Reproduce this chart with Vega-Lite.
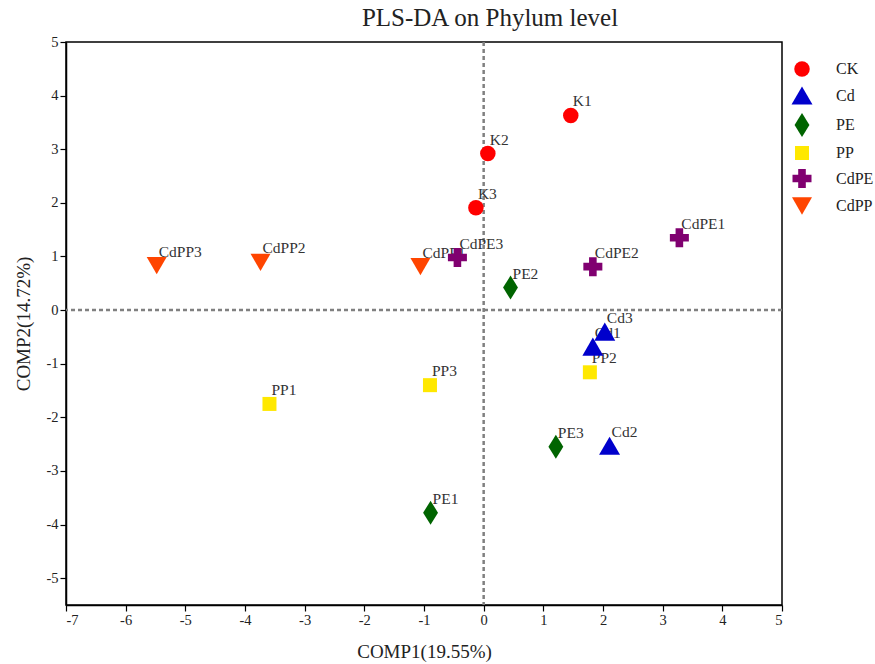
{
  "$schema": "https://vega.github.io/schema/vega-lite/v6.json",
  "width": 716,
  "height": 563,
  "autosize": {"type": "none"},
  "padding": {"left": 66, "top": 42, "right": 93, "bottom": 59},
  "background": "white",
  "title": {"text": "PLS-DA on Phylum level", "font": "Liberation Serif", "fontSize": 25, "fontWeight": "normal", "color": "#222222", "anchor": "middle", "dx": 66, "offset": 3},
  "config": {
    "view": {"stroke": "#000000", "strokeWidth": 1.5},
    "axis": {"grid": false, "domainColor": "#000000", "domainWidth": 1.5, "tickColor": "#000000", "tickWidth": 1.2, "tickSize": 6, "labelFont": "Liberation Serif", "labelFontSize": 14.5, "labelColor": "#222222", "titleFont": "Liberation Serif", "titleFontSize": 19, "titleFontWeight": "normal", "titleColor": "#222222", "labelExpr": "'' + datum.value"}
  },
  "data": {"values": [
    {"sample": "K1", "group": "CK", "x": 1.46, "y": 3.63},
    {"sample": "K2", "group": "CK", "x": 0.07, "y": 2.92},
    {"sample": "K3", "group": "CK", "x": -0.13, "y": 1.91},
    {"sample": "Cd1", "group": "Cd", "x": 1.83, "y": -0.68},
    {"sample": "Cd2", "group": "Cd", "x": 2.11, "y": -2.53},
    {"sample": "Cd3", "group": "Cd", "x": 2.03, "y": -0.40},
    {"sample": "PE1", "group": "PE", "x": -0.89, "y": -3.78},
    {"sample": "PE2", "group": "PE", "x": 0.45, "y": 0.42},
    {"sample": "PE3", "group": "PE", "x": 1.21, "y": -2.55},
    {"sample": "PP1", "group": "PP", "x": -3.59, "y": -1.75},
    {"sample": "PP2", "group": "PP", "x": 1.78, "y": -1.16},
    {"sample": "PP3", "group": "PP", "x": -0.90, "y": -1.40},
    {"sample": "CdPE1", "group": "CdPE", "x": 3.28, "y": 1.35},
    {"sample": "CdPE2", "group": "CdPE", "x": 1.83, "y": 0.81},
    {"sample": "CdPE3", "group": "CdPE", "x": -0.44, "y": 0.98},
    {"sample": "CdPP1", "group": "CdPP", "x": -1.06, "y": 0.81},
    {"sample": "CdPP2", "group": "CdPP", "x": -3.74, "y": 0.89},
    {"sample": "CdPP3", "group": "CdPP", "x": -5.48, "y": 0.83}
  ]},
  "layer": [
    {
      "data": {"values": [{"v": 0}]},
      "mark": {"type": "rule", "color": "#808080", "strokeWidth": 2.5, "strokeDash": [4, 3]},
      "encoding": {"x": {"field": "v", "type": "quantitative", "scale": {"domain": [-7, 5]}}}
    },
    {
      "data": {"values": [{"v": 0}]},
      "mark": {"type": "rule", "color": "#808080", "strokeWidth": 2.5, "strokeDash": [4, 3]},
      "encoding": {"y": {"field": "v", "type": "quantitative", "scale": {"domain": [-5.5, 5]}}}
    },
    {
      "mark": {"type": "text", "align": "left", "baseline": "middle", "dx": 2, "dy": -14, "font": "Liberation Serif", "fontSize": 15.5, "color": "#333333"},
      "encoding": {
        "x": {"field": "x", "type": "quantitative"},
        "y": {"field": "y", "type": "quantitative"},
        "text": {"field": "sample"}
      }
    },
    {
      "mark": {"type": "point", "filled": true, "opacity": 1, "strokeWidth": 0},
      "encoding": {
        "x": {"field": "x", "type": "quantitative", "scale": {"domain": [-7, 5], "nice": false, "zero": false}, "axis": {"values": [-7, -6, -5, -4, -3, -2, -1, 0, 1, 2, 3, 4, 5], "title": "COMP1(19.55%)", "titlePadding": 16}},
        "y": {"field": "y", "type": "quantitative", "scale": {"domain": [-5.5, 5], "nice": false, "zero": false}, "axis": {"values": [-5, -4, -3, -2, -1, 0, 1, 2, 3, 4, 5], "title": "COMP2(14.72%)", "titlePadding": 12}},
        "color": {"field": "group", "type": "nominal", "scale": {"domain": ["CK", "Cd", "PE", "PP", "CdPE", "CdPP"], "range": ["#FF0000", "#0000CC", "#006400", "#FFE800", "#800070", "#FF4500"]},
          "legend": {"title": null, "orient": "none", "legendX": 724, "legendY": 19, "symbolSize": 400, "symbolStrokeWidth": 0, "labelFont": "Liberation Serif", "labelFontSize": 16, "labelColor": "#222222", "labelOffset": 22, "rowPadding": 8, "padding": 0}},
        "shape": {"field": "group", "type": "nominal", "scale": {"domain": ["CK", "Cd", "PE", "PP", "CdPE", "CdPP"], "range": ["circle", "triangle-up", "M0,-1L0.62,0L0,1L-0.62,0Z", "square", "cross", "triangle-down"]}},
        "size": {"field": "group", "type": "nominal", "scale": {"type": "ordinal", "domain": ["CK", "Cd", "PE", "PP", "CdPE", "CdPP"], "range": [240, 440, 576, 196, 361, 400]}, "legend": null}
      }
    }
  ]
}
